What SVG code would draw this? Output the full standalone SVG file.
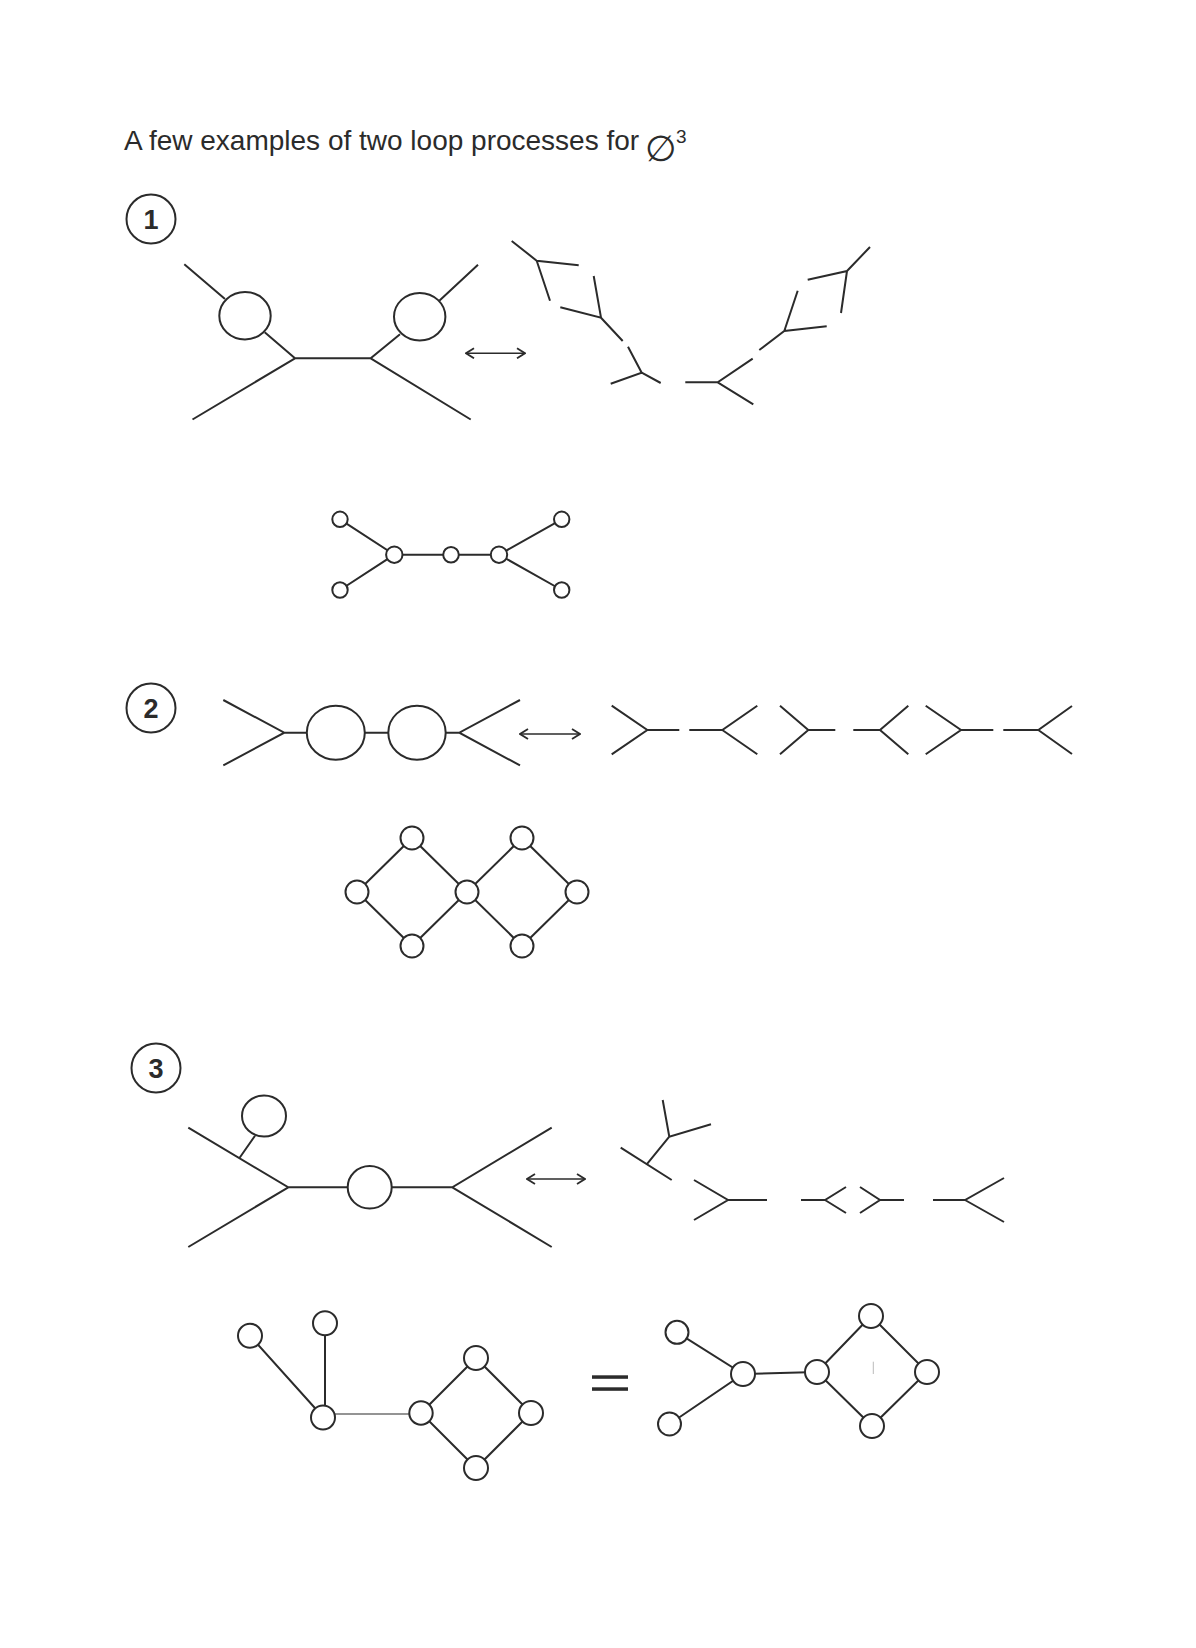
<svg xmlns="http://www.w3.org/2000/svg" width="1196" height="1648" viewBox="0 0 1196 1648">
<style>
.s{stroke:#2b2b2b;stroke-width:2;fill:none}
.thin{stroke:#2b2b2b;stroke-width:1.2;fill:none}
.n{stroke:#2b2b2b;stroke-width:2;fill:#fff}
.t{font-family:"Liberation Sans",Arial,sans-serif;fill:#2b2b2b}
.num{font-family:"Liberation Sans",Arial,sans-serif;font-weight:bold;font-size:27px;fill:#2b2b2b;text-anchor:middle}
.ar{stroke:#2b2b2b;stroke-width:1.6;fill:none;marker-start:url(#ah);marker-end:url(#ah)}
</style>
<defs>
<marker id="ah" markerUnits="userSpaceOnUse" viewBox="0 0 10 12" markerWidth="10" markerHeight="12" refX="9" refY="6" orient="auto-start-reverse">
<path d="M1,1 L9,6 L1,11" fill="none" stroke="#2b2b2b" stroke-width="1.8"/>
</marker>
</defs>
<rect width="1196" height="1648" fill="#fff"/>

<g id="title">
<text class="t" x="124" y="150" font-size="28">A few examples of two loop processes for</text>
<text x="645" y="161" font-family="DejaVu Sans,sans-serif" font-size="36" fill="#2b2b2b">∅</text>
<text class="t" x="676" y="143" font-size="19">3</text>
</g>

<g id="label1"><circle class="n" cx="151" cy="219" r="24.5"/><text class="num" x="151" y="228.5">1</text></g>
<g id="label2"><circle class="n" cx="151" cy="708" r="24.5"/><text class="num" x="151" y="717.5">2</text></g>
<g id="label3"><circle class="n" cx="156" cy="1068" r="24.5"/><text class="num" x="156" y="1077.5">3</text></g>

<g id="connectors">
<path class="ar" d="M466,353.3 L525,353.3"/>
<path class="ar" d="M520,734 L580,734"/>
<path class="ar" d="M527,1179 L585,1179"/>
</g>

<g id="d1-left">
<path class="s" d="M184.3,264.3 L225,299 M264.7,332.3 L295,358.3 L370.7,358.3 L400,334.3 M439.3,300.7 L478,264.7 M295,358.3 L192.5,419.5 M370.7,358.3 L470.7,419.5"/>
<ellipse class="n" cx="245" cy="315.7" rx="25.7" ry="23.7"/>
<ellipse class="n" cx="419.7" cy="316.7" rx="25.7" ry="23.8"/>
</g>

<g id="d1-right">
<path class="s" d="M511.7,241 L536.7,260.7 L578.7,265.3 M536.7,260.7 L550,300.7"/>
<path class="s" d="M593.7,276 L601,317.7 L560.3,307.3 M601,317.7 L622.7,341"/>
<path class="s" d="M628,346.7 L641.7,372.7 L610.7,383.7 M641.7,372.7 L660.7,383"/>
<path class="s" d="M685.3,382.3 L717.7,382.3 L752.7,358.7 M717.7,382.3 L753.3,404.3"/>
<path class="s" d="M759.3,350 L784.3,331 L826.7,326.3 M784.3,331 L797.7,290.7"/>
<path class="s" d="M807.7,279.7 L847,271 L870,247 M847,271 L841,313"/>
</g>

<g id="d1-graph">
<path class="s" d="M340,519.3 L394.3,554.7 L340,590 M394.3,554.7 L499,554.7 M561.7,519.3 L499,554.7 L561.7,590"/>
<circle class="n" cx="340" cy="519.3" r="7.7"/>
<circle class="n" cx="340" cy="590" r="7.7"/>
<circle class="n" cx="394.3" cy="554.7" r="8.2"/>
<circle class="n" cx="451" cy="554.7" r="7.8"/>
<circle class="n" cx="499" cy="554.7" r="8.2"/>
<circle class="n" cx="561.7" cy="519.3" r="7.7"/>
<circle class="n" cx="561.7" cy="590" r="7.7"/>
</g>

<g id="d2-left">
<path class="s" d="M223.3,700 L284.3,732.7 L223.3,765.4 M284.3,732.7 L459.3,732.7 M520,700 L459.3,732.7 L520,765.4"/>
<ellipse class="n" cx="335.8" cy="732.7" rx="29" ry="27"/>
<ellipse class="n" cx="417" cy="732.7" rx="28.7" ry="27"/>
</g>

<g id="d2-right">
<path class="s" d="M611.7,705.7 L647.3,730 L611.7,754.3 M647.3,730 L679.3,730"/>
<path class="s" d="M689.3,730 L722.3,730 L757.3,705.7 M722.3,730 L757.3,754.3"/>
<path class="s" d="M780,705.7 L808.3,730 L780,754.3 M808.3,730 L835.3,730"/>
<path class="s" d="M853.3,730 L880,730 L908.3,705.7 M880,730 L908.3,754.3"/>
<path class="s" d="M925.7,705.7 L961,730 L925.7,754.3 M961,730 L993.3,730"/>
<path class="s" d="M1003.3,730 L1038.3,730 L1072,706 M1038.3,730 L1072,754"/>
</g>

<g id="d2-graph">
<path class="s" d="M357,892 L412,838 L467,892 L412,946 Z M467,892 L522,838 L577,892 L522,946 Z"/>
<circle class="n" cx="412" cy="838" r="11.5"/>
<circle class="n" cx="357" cy="892" r="11.5"/>
<circle class="n" cx="467" cy="892" r="11.5"/>
<circle class="n" cx="412" cy="946" r="11.5"/>
<circle class="n" cx="522" cy="838" r="11.5"/>
<circle class="n" cx="577" cy="892" r="11.5"/>
<circle class="n" cx="522" cy="946" r="11.5"/>
</g>

<g id="d3-left">
<path class="s" d="M188.3,1127.7 L288.3,1187.3 L347.7,1187.3 M391.7,1187.3 L452.3,1187.3 L551.7,1127.7 M288.3,1187.3 L188.3,1247 M452.3,1187.3 L551.7,1247 M255,1135.7 L239.3,1158.3"/>
<ellipse class="n" cx="264" cy="1116" rx="22" ry="20.5"/>
<ellipse class="n" cx="369.7" cy="1187.3" rx="22" ry="21.3"/>
</g>

<g id="d3-right">
<path class="s" d="M662.7,1100 L669.3,1136.7 L711,1124.3 M669.3,1136.7 L646.7,1164.3 M620.7,1147.7 L671.7,1180"/>
<path class="s" d="M694,1180 L728,1200 L694,1220 M728,1200 L767,1200"/>
<path class="s" d="M801,1200 L825,1200 L846,1187 M825,1200 L846,1213"/>
<path class="s" d="M860,1187 L880,1200 L860,1213 M880,1200 L904,1200"/>
<path class="s" d="M933,1200 L965,1200 L1004,1178 M965,1200 L1004,1222"/>
</g>

<g id="d3-graph-left">
<path class="s" d="M250,1335.7 L323,1417 M325,1323 L325,1406"/>
<path class="thin" d="M334,1414 L411,1414"/>
<path class="s" d="M421,1413 L476,1358 L531,1413 L476,1468 Z"/>
<circle class="n" cx="250" cy="1335.7" r="12"/>
<circle class="n" cx="325" cy="1323.3" r="12"/>
<circle class="n" cx="323" cy="1417.5" r="12"/>
<circle class="n" cx="421" cy="1413" r="11.7"/>
<circle class="n" cx="476" cy="1358" r="12"/>
<circle class="n" cx="531" cy="1413" r="12"/>
<circle class="n" cx="476" cy="1468" r="12"/>
</g>

<g id="equals">
<rect x="592" y="1375.3" width="36" height="3.5" fill="#2b2b2b"/>
<rect x="592" y="1387.3" width="36" height="3.5" fill="#2b2b2b"/>
</g>

<g id="d3-graph-right">
<path class="s" d="M677,1332.3 L743,1374 L669.5,1424 M743,1374 L817,1372 M817,1372 L871,1316 L927,1372 L872,1426 Z"/>
<path d="M873.3,1361.7 L873.3,1374" stroke="#bbb" stroke-width="1"/>
<circle class="n" cx="677" cy="1332.3" r="11.5"/>
<circle class="n" cx="669.5" cy="1424" r="11.5"/>
<circle class="n" cx="743" cy="1374" r="12"/>
<circle class="n" cx="817" cy="1372" r="12"/>
<circle class="n" cx="871" cy="1316" r="12"/>
<circle class="n" cx="927" cy="1372" r="12"/>
<circle class="n" cx="872" cy="1426" r="12"/>
</g>
</svg>
